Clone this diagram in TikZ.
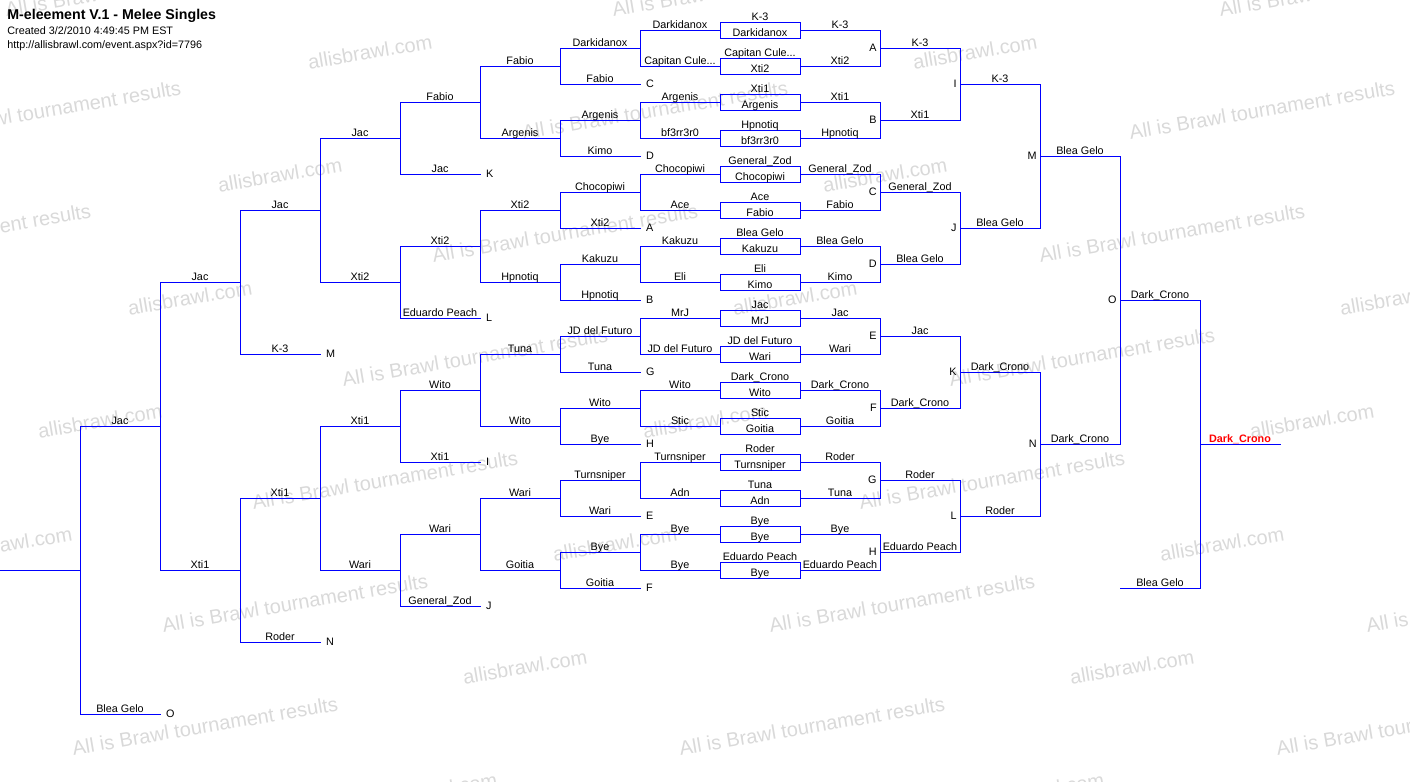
\documentclass[tikz,border=0pt]{standalone}
\usepackage{fontspec}
\setmainfont{Liberation Sans}
\usetikzlibrary{positioning}
\newcommand\lblfont{\fontsize{5.4}{6.5}\selectfont}
\newcommand\titlefont{\fontsize{7.1}{8.5}\selectfont\bfseries}
\newcommand\cule{Capitan Cule...}
\begin{document}
\begin{tikzpicture}[x=0.5pt,y=-0.5pt]
	\tikzset{
		bline/.style={draw=blue, line width=0.5pt, line cap=rect},
		wbox/.style={draw=blue, line width=0.5pt, minimum width=40pt, minimum height=8pt, inner sep=0pt, outer sep=0pt, text height=7.3pt, text depth=0.7pt, font=\lblfont},
		lbl/.style={anchor=base, yshift=0.8pt, inner sep=0pt, font=\lblfont},
		tag/.style={inner sep=0pt, font=\lblfont},
		wmark/.style={rotate=9.6, text=black!15, inner sep=0pt, font=\fontsize{10}{12}\selectfont}
	}
	\useasboundingbox (0,0) rectangle (1410,782);
	\clip (0,0) rectangle (1410,782);
	\foreach \x/\y [count=\k] in {138/-13, 48/110, -42/233, 745/-13, 655/110, 565/233, 475/357, 385/480, 295/603, 205/726, 1352/-13, 1262/110, 1172/233, 1082/357, 992/480, 902/603, 812/726, 1499/603, 1409/726}
		\node[wmark] (wa\k) at (\x,\y) {All is Brawl tournament results};
	\foreach \x/\y [count=\k] in {370/52, 280/175, 190/298, 100/421, 10/544, 975/52, 885/175, 795/298, 705/421, 615/544, 525/667, 435/790, 1402/298, 1312/421, 1222/544, 1132/667, 1042/790}
		\node[wmark] (wc\k) at (\x,\y) {allisbrawl.com};
	\node[anchor=base west, inner sep=0pt, font=\titlefont] (title) at (7,19) {M-eleement V.1 - Melee Singles};
	\node[anchor=base west, inner sep=0pt, font=\lblfont] (created) at (7,34) {Created 3/2/2010 4:49:45 PM EST};
	\node[anchor=base west, inner sep=0pt, font=\lblfont] (url) at (7,48.5) {http://allisbrawl.com/event.aspx?id=7796};
	\foreach \i/\pa/\pb/\winner/\loser in {1/K-3/Darkidanox/K-3/Darkidanox, 2/\cule/Xti2/Xti2/\cule, 3/Xti1/Argenis/Xti1/Argenis, 4/Hpnotiq/bf3rr3r0/Hpnotiq/bf3rr3r0, 5/General\_Zod/Chocopiwi/General\_Zod/Chocopiwi, 6/Ace/Fabio/Fabio/Ace, 7/Blea Gelo/Kakuzu/Blea Gelo/Kakuzu, 8/Eli/Kimo/Kimo/Eli, 9/Jac/MrJ/Jac/MrJ, 10/JD del Futuro/Wari/Wari/JD del Futuro, 11/Dark\_Crono/Wito/Dark\_Crono/Wito, 12/Stic/Goitia/Goitia/Stic, 13/Roder/Turnsniper/Roder/Turnsniper, 14/Tuna/Adn/Tuna/Adn, 15/Bye/Bye/Bye/Bye, 16/Eduardo Peach/Bye/Eduardo Peach/Bye} {
		\node[wbox, label={[lbl]north:\pa}] (b\i) at (760,36*\i-6) {\pb};
		\coordinate (w\i) at (880,36*\i-6);
		\coordinate (l\i) at (640,36*\i-6);
		\draw[bline] (b\i.east) -- node[lbl]{\winner} (w\i);
		\draw[bline] (b\i.west) -- node[lbl]{\loser} (l\i);
	}
	\foreach \m/\x/\y/\nm in {C/560/84/Fabio, D/560/156/Kimo, A/560/228/Xti2, B/560/300/Hpnotiq, G/560/372/Tuna, H/560/444/Bye, E/560/516/Wari, F/560/588/Goitia, K/400/174/Jac, L/400/318/Eduardo Peach, I/400/462/Xti1, J/400/606/General\_Zod, M/240/354/K-3, N/240/642/Roder, O/80/714/Blea Gelo} {
		\coordinate (d\m) at (\x,\y);
		\coordinate (e\m) at (\x+80,\y);
		\draw[bline] (e\m) -- node[lbl]{\nm} (d\m);
		\node[tag, anchor=west] (y\m) at ([xshift=2.8pt]e\m) {\m};
	}
	\foreach \m/\pa/\pb/\nm in {A/w1/w2/K-3, B/w3/w4/Xti1, C/w5/w6/General\_Zod, D/w7/w8/Blea Gelo, E/w9/w10/Jac, F/w11/w12/Dark\_Crono, G/w13/w14/Roder, H/w15/w16/Eduardo Peach, I/oA/oB/K-3, J/oC/oD/Blea Gelo, K/oE/oF/Dark\_Crono, L/oG/oH/Roder, M/oI/oJ/Blea Gelo, N/oK/oL/Dark\_Crono, O/oM/oN/Dark\_Crono} {
		\draw[bline] (\pa) -- coordinate (m\m) (\pb);
		\coordinate (o\m) at ([xshift=40pt]m\m);
		\draw[bline] (m\m) -- node[lbl]{\nm} (o\m);
		\node[tag, anchor=east] (x\m) at ([xshift=-1.5pt]m\m) {\m};
	}
	\foreach \m/\pa/\pb/\nm in {p1/l1/l2/Darkidanox, p2/l3/l4/Argenis, p3/l5/l6/Chocopiwi, p4/l7/l8/Kakuzu, p5/l9/l10/JD del Futuro, p6/l11/l12/Wito, p7/l13/l14/Turnsniper, p8/l15/l16/Bye, q1/op1/dC/Fabio, q2/op2/dD/Argenis, q3/op3/dA/Xti2, q4/op4/dB/Hpnotiq, q5/op5/dG/Tuna, q6/op6/dH/Wito, q7/op7/dE/Wari, q8/op8/dF/Goitia, r1/oq1/oq2/Fabio, r2/oq3/oq4/Xti2, r3/oq5/oq6/Wito, r4/oq7/oq8/Wari, s1/or1/dK/Jac, s2/or2/dL/Xti2, s3/or3/dI/Xti1, s4/or4/dJ/Wari, t1/os1/os2/Jac, t2/os3/os4/Xti1, u1/ot1/dM/Jac, u2/ot2/dN/Xti1, v1/ou1/ou2/Jac, v2/ov1/dO/{}} {
		\draw[bline] (\pa) -- coordinate (m\m) (\pb);
		\coordinate (o\m) at ([xshift=-40pt]m\m);
		\draw[bline] (m\m) -- node[lbl]{\nm} (o\m);
	}
	\coordinate (gB) at (1120,588);
	\coordinate (gA) at (1200,588);
	\draw[bline] (gB) -- node[lbl]{Blea Gelo} (gA);
	\draw[bline] (oO) -- coordinate (mZ) (gA);
	\coordinate (champ) at ([xshift=40pt]mZ);
	\draw[bline] (mZ) -- node[lbl, text=red, font=\lblfont\bfseries]{Dark\_Crono} (champ);
\end{tikzpicture}
\end{document}
